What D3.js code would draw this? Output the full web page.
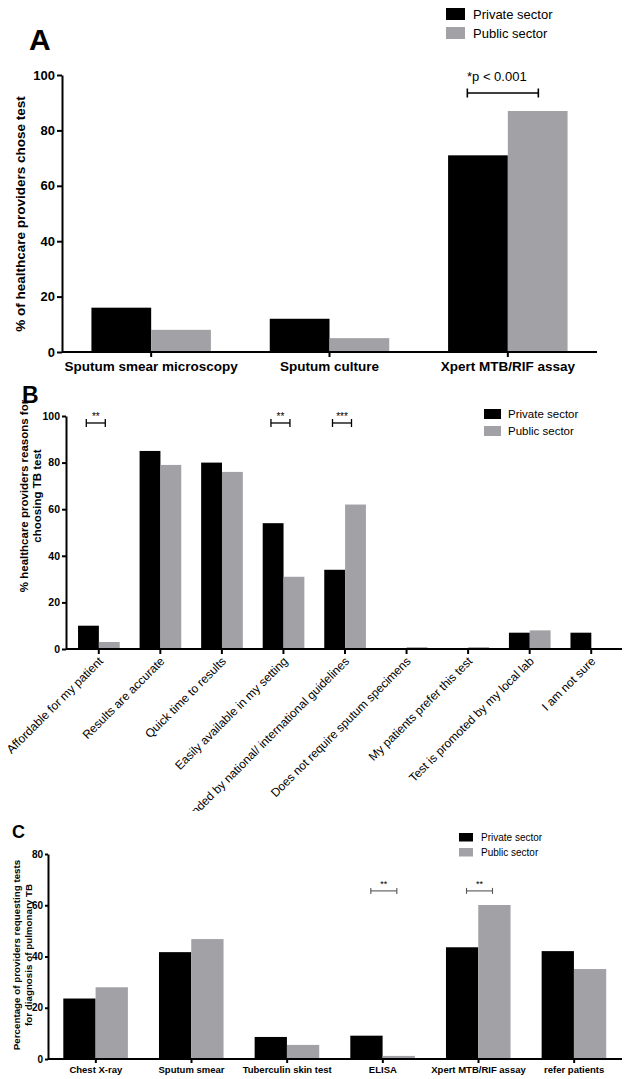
<!DOCTYPE html>
<html>
<head>
<meta charset="utf-8">
<script src="https://cdn.jsdelivr.net/npm/d3@7"></script>
<style>
  body { margin: 0; background: #fff; }
  svg { font-family: "Liberation Sans", Arial, sans-serif; }
  .axis path, .axis line { stroke: #000; stroke-width: 2; }
</style>
</head>
<body>
<svg id="fig" width="627" height="1079"></svg>
<script>
// ---- data ----
var series = ["Private sector", "Public sector"];
var colors = ["#000000", "#a2a2a6"];

// panel A
var catsA = ["Sputum smear microscopy", "Sputum culture", "Xpert MTB/RIF assay"];
var privateA = [16, 12, 71];
var publicA = [8, 5, 87];
var ticksA = [0, 20, 40, 60, 80, 100];

// panel B
var catsB = ["Affordable for my patient", "Results are accurate", "Quick time to results",
  "Easily available in my setting", "Recommended by national/ international guidelines",
  "Does not require sputum specimens", "My patients prefer this test",
  "Test is promoted by my local lab", "I am not sure"];
var privateB = [10, 85, 80, 54, 34, 0, 0, 7, 7];
var publicB = [3, 79, 76, 31, 62, 0.8, 0.8, 8, 0];
var ticksB = [0, 20, 40, 60, 80, 100];

// panel C
var catsC = ["Chest X-ray", "Sputum smear", "Tuberculin skin test", "ELISA", "Xpert MTB/RIF assay", "refer patients"];
var privateC = [23.6, 41.7, 8.6, 9.1, 43.6, 42.1];
var publicC = [28, 46.8, 5.5, 1.2, 60.1, 35.1];
var ticksC = [0, 20, 40, 60, 80];

// significance markers: category, label, value where the bracket sits
var sigA = [{cat: "Xpert MTB/RIF assay", label: "*p < 0.001", v: 93.5}];
var sigB = [{cat: "Affordable for my patient", label: "**", v: 97},
            {cat: "Easily available in my setting", label: "**", v: 97},
            {cat: "Recommended by national/ international guidelines", label: "***", v: 97}];
var sigC = [{cat: "ELISA", label: "**", v: 65.6},
            {cat: "Xpert MTB/RIF assay", label: "**", v: 65.6}];

var svg = d3.select("#fig");

function drawPanel(o) {
  var g = svg.append("g");
  if (o.clip) {
    svg.append("clipPath").attr("id", o.clip.id)
      .append("rect").attr("x", 0).attr("y", 0).attr("width", 627).attr("height", o.clip.h);
    g.attr("clip-path", "url(#" + o.clip.id + ")");
  }
  var x = d3.scaleBand().domain(o.cats).range([o.x0, o.x1]);
  var bw = x.bandwidth();
  var xs = d3.scaleBand().domain(series).range([bw * o.inner[0], bw * o.inner[1]]);
  var y = d3.scaleLinear().domain([0, o.ymax]).range([o.yb, o.yt]);

  var rows = o.cats.map(function(c, i) { return {cat: c, vals: [o.priv[i], o.pub[i]]}; });

  // bars
  g.selectAll(".grp").data(rows).enter().append("g")
    .attr("transform", function(d) { return "translate(" + x(d.cat) + ",0)"; })
    .selectAll("rect").data(function(d) { return d.vals.map(function(v, k) { return {s: series[k], v: v, k: k}; }); })
    .enter().append("rect")
    .attr("x", function(d) { return xs(d.s); })
    .attr("width", xs.bandwidth())
    .attr("y", function(d) { return y(d.v); })
    .attr("height", function(d) { return o.yb - y(d.v); })
    .attr("fill", function(d) { return colors[d.k]; });

  // y axis
  var ya = g.append("g").attr("class", "axis")
    .attr("transform", "translate(" + o.x0a + ",0)")
    .call(d3.axisLeft(y).tickValues(o.ticks).tickSize(o.yTick).tickSizeOuter(0).tickPadding(2));
  ya.selectAll("text").attr("font-size", o.tickFont).attr("font-weight", "bold").attr("fill", "#000");

  // x axis
  var xa = g.append("g").attr("class", "axis")
    .attr("transform", "translate(0," + o.yb + ")")
    .call(d3.axisBottom(x).tickSize(o.xTick).tickSizeOuter(0).tickPadding(o.xPad));
  xa.select(".domain").attr("d", "M" + o.x0a + ",0H" + o.x1);
  if (o.rotate) {
    xa.selectAll("text").attr("font-size", o.catFont).attr("fill", "#000")
      .attr("text-anchor", "end")
      .attr("transform", "translate(2,10) rotate(-45)")
      .attr("dy", "0.35em").attr("y", 0).attr("x", 0);
  } else {
    xa.selectAll("text").attr("font-size", o.catFont).attr("font-weight", "bold").attr("fill", "#000");
  }

  // y label
  var lab = g.append("text")
    .attr("transform", "translate(" + o.ylab.x + "," + o.ylab.y + ") rotate(-90)")
    .attr("text-anchor", "middle").attr("font-weight", "bold").attr("font-size", o.ylab.size);
  o.ylab.lines.forEach(function(t, i) {
    lab.append("tspan").attr("x", 0).attr("dy", i === 0 ? 0 : o.ylab.lh).text(t);
  });

  // significance brackets
  o.sig.forEach(function(s) {
    var cx = x(s.cat) + bw / 2 + o.sigShift, yy = y(s.v), hw = o.sigHalf, e = o.sigEnd;
    var b = g.append("g").attr("stroke", o.sigColor).attr("stroke-width", o.sigW);
    b.append("line").attr("x1", cx - hw).attr("x2", cx + hw).attr("y1", yy).attr("y2", yy);
    b.append("line").attr("x1", cx - hw).attr("x2", cx - hw).attr("y1", yy - e).attr("y2", yy + e);
    b.append("line").attr("x1", cx + hw).attr("x2", cx + hw).attr("y1", yy - e).attr("y2", yy + e);
    g.append("text").attr("x", cx + o.sigTextDx).attr("y", yy - o.sigTextDy)
      .attr("text-anchor", "middle").attr("font-size", o.sigFont).text(s.label);
  });

  // legend
  series.forEach(function(s, k) {
    g.append("rect").attr("x", o.leg.x).attr("y", o.leg.y + k * o.leg.gap)
      .attr("width", o.leg.w).attr("height", o.leg.h).attr("fill", colors[k]);
    g.append("text").attr("x", o.leg.x + o.leg.w + o.leg.tx).attr("y", o.leg.y + k * o.leg.gap + o.leg.h - 1)
      .attr("font-size", o.leg.size).text(s);
  });

  // panel letter
  g.append("text").attr("x", o.letter.x).attr("y", o.letter.y)
    .attr("font-size", o.letter.size).attr("font-weight", "bold").text(o.letter.t);
}

drawPanel({
  cats: catsA, priv: privateA, pub: publicA, ticks: ticksA, ymax: 100,
  x0: 62, x0a: 62, x1: 597, yb: 352, yt: 75, inner: [0.165, 0.835],
  tickFont: 13, catFont: 13.5, yTick: 5, xTick: 5, xPad: 4,
  ylab: {x: 25, y: 214, size: 13.5, lh: 0, lines: ["% of healthcare providers chose test"]},
  sig: sigA, sigShift: -5, sigHalf: 35.5, sigEnd: 4.5, sigW: 1.6, sigColor: "#000",
  sigTextDx: -6, sigTextDy: 12, sigFont: 13,
  leg: {x: 446, y: 8, w: 19, h: 12, gap: 19, tx: 8, size: 13},
  letter: {x: 29, y: 50, size: 30, t: "A"}
});

drawPanel({
  cats: catsB, priv: privateB, pub: publicB, ticks: ticksB, ymax: 100,
  x0: 68, x0a: 66, x1: 622, yb: 649, yt: 416, inner: [0.163, 0.84],
  tickFont: 10.5, catFont: 12, yTick: 4, xTick: 5, xPad: 4, rotate: true,
  clip: {id: "clipB", h: 811},
  ylab: {x: 28, y: 496, size: 11.5, lh: 13, lines: ["% healthcare providers reasons  for", "choosing TB test"]},
  sig: sigB, sigShift: -3, sigHalf: 9.5, sigEnd: 4, sigW: 1.3, sigColor: "#000",
  sigTextDx: 0, sigTextDy: 3, sigFont: 10,
  leg: {x: 484, y: 409, w: 17, h: 10, gap: 17, tx: 7, size: 11.5},
  letter: {x: 22, y: 403, size: 23, t: "B"}
});

drawPanel({
  cats: catsC, priv: privateC, pub: publicC, ticks: ticksC, ymax: 80,
  x0: 48, x0a: 48, x1: 622, yb: 1059, yt: 854, inner: [0.16, 0.835],
  tickFont: 10, catFont: 9.5, yTick: 3, xTick: 4, xPad: 3,
  ylab: {x: 20, y: 955, size: 9.8, lh: 12, lines: ["Percentage of providers requesting tests", "for diagnosis of pulmonary TB"]},
  sig: sigC, sigShift: 1, sigHalf: 13, sigEnd: 3, sigW: 1.1, sigColor: "#555",
  sigTextDx: 0, sigTextDy: 4, sigFont: 9,
  leg: {x: 459, y: 833, w: 14, h: 8.5, gap: 15, tx: 8, size: 10},
  letter: {x: 12, y: 838, size: 18, t: "C"}
});
</script>
</body>
</html>
